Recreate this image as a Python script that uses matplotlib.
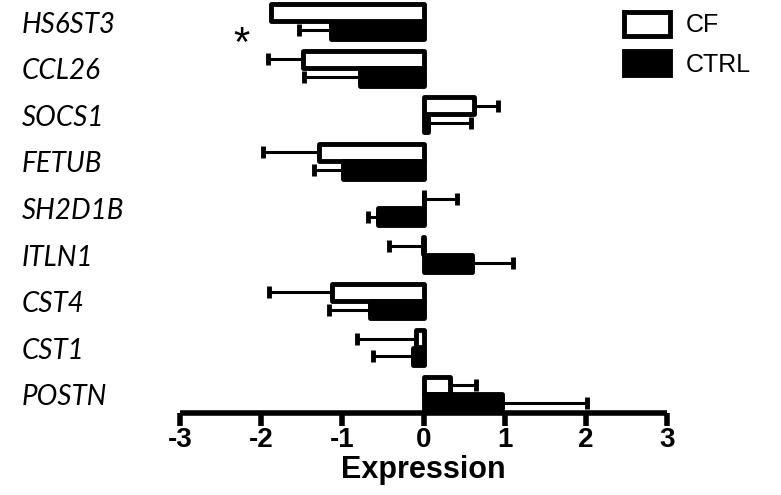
import numpy as np
import matplotlib
matplotlib.use("Agg")
import matplotlib.pyplot as plt
import matplotlib.transforms as mtransforms

genes = ['HS6ST3', 'CCL26', 'SOCS1', 'FETUB', 'SH2D1B', 'ITLN1', 'CST4', 'CST1', 'POSTN']
cf = [-1.88, -1.49, 0.62, -1.29, 0.005, -0.005, -1.13, -0.10, 0.32]
cf_err = [0.0, 0.43, 0.29, 0.69, 0.40, 0.42, 0.78, 0.72, 0.32]
ctrl = [-1.14, -0.79, 0.05, -0.99, -0.56, 0.60, -0.66, -0.13, 0.97]
ctrl_err = [0.40, 0.68, 0.53, 0.36, 0.12, 0.50, 0.51, 0.50, 1.04]
xticks = [-3, -2, -1, 0, 1, 2, 3]

plt.rcParams['font.family'] = ['Liberation Sans', 'DejaVu Sans']

fig = plt.figure(figsize=(7.81, 4.95), dpi=100)
ax = fig.add_axes([0.2305, 0.166, 0.624, 0.834])

pos = np.arange(len(genes))[::-1].astype(float)
h = 0.37
off = 0.19
lw = 3.5


def draw(vals, errs, y, face):
    vals = np.array(vals)
    errs = np.array(errs)
    bars = ax.barh(y, vals, height=h, color=face, edgecolor='black', linewidth=lw,
                   joinstyle='round', zorder=3)
    m = errs > 0
    lo = np.where(vals < 0, errs, 0)
    hi = np.where(vals >= 0, errs, 0)
    ax.errorbar(vals[m], y[m], xerr=[lo[m], hi[m]], fmt='none', ecolor='black',
                elinewidth=2.2, capsize=4, capthick=3.5, zorder=2)
    return bars


b1 = draw(cf, cf_err, pos + off, 'white')
b2 = draw(ctrl, ctrl_err, pos - off, 'black')

ax.set_xlim(-3, 3)
ax.set_ylim(-0.4, 8.46)
for s in ['left', 'right', 'top']:
    ax.spines[s].set_visible(False)
ax.spines['bottom'].set_linewidth(4)
ax.spines['bottom'].set_capstyle('butt')
ax.set_yticks([])
ax.set_xticks(xticks)
ax.set_xticklabels([str(t) for t in xticks], fontsize=20, fontweight='bold')
ax.tick_params(axis='x', length=9, width=4, pad=1)
ax.set_xlabel('Expression', fontsize=22, fontweight='bold', labelpad=2)

trans = mtransforms.blended_transform_factory(fig.transFigure, ax.transData)
for g, y in zip(genes, pos):
    ax.text(22 / 781, y - 0.07, g, transform=trans, fontsize=20, style='italic',
            family=['Lato', 'DejaVu Sans'], ha='left', va='center')

ax.text(-2.24, 7.5, '*', fontsize=30, ha='center', va='center')

leg = ax.legend([b1, b2], ['CF', 'CTRL'], loc='upper left',
                bbox_to_anchor=(624 / 781, 1 - 12 / 495), bbox_transform=fig.transFigure,
                frameon=False, fontsize=18, handlelength=1.84, handleheight=1.08,
                handletextpad=0.64, labelspacing=0.56, borderpad=0, borderaxespad=0)

fig.savefig('out.png', dpi=100)
